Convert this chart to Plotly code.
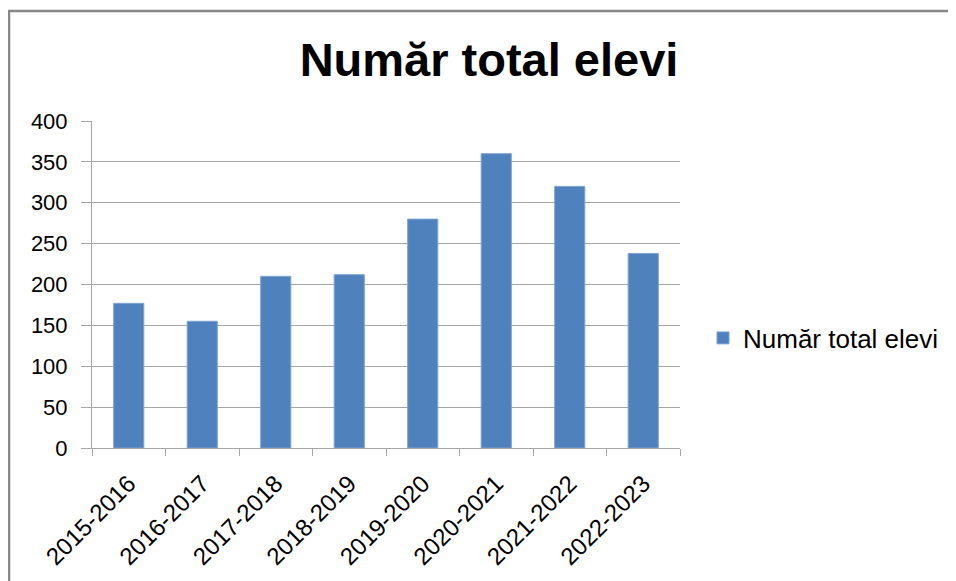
import plotly.graph_objects as go

categories = ["2015-2016", "2016-2017", "2017-2018", "2018-2019",
              "2019-2020", "2020-2021", "2021-2022", "2022-2023"]
values = [177, 155, 210, 212, 280, 360, 320, 238]
series_name = "Număr total elevi"
title_text = "Număr total elevi"
y_ticks = [0, 50, 100, 150, 200, 250, 300, 350, 400]

OFF = 8  # page body margin offset
W, H = 956 - OFF, 581 - OFF

fig = go.Figure()
fig.add_trace(go.Bar(
    x=categories, y=values, name=series_name,
    marker=dict(color="#4F81BD", line=dict(color="#7EA3D3", width=1)),
    showlegend=True,
))

L, T = 92 - OFF, 121 - OFF
R = 956 - 680
B = 581 - 448
pw = W - L - R
ph = H - T - B

def px(x):
    return (x - OFF - L) / pw

def py(y):
    return (448 - y) / ph

fig.update_layout(
    width=W, height=H,
    margin=dict(l=L, r=R, t=T, b=B, autoexpand=False),
    paper_bgcolor="white", plot_bgcolor="white",
    font=dict(family="Liberation Sans, Arial, sans-serif", color="#000000"),
    bargap=0.59,
    title=dict(text="<b>" + title_text + "</b>", x=(489 - OFF) / W, xanchor="center",
               y=1 - (60 - OFF) / H, yanchor="middle",
               font=dict(size=47, color="#000000")),
    legend=dict(x=px(703), xanchor="left", y=py(338), yanchor="middle",
                font=dict(size=26), itemwidth=30, bgcolor="rgba(0,0,0,0)",
                tracegroupgap=0),
    showlegend=True,
)
fig.update_xaxes(
    type="category", tickangle=-45, tickfont=dict(size=24),
    showline=True, linecolor="#A6A6A6", linewidth=1,
    ticks="outside", tickson="boundaries", ticklen=7, tickcolor="#A6A6A6",
    ticklabelstandoff=11, automargin=False,
    showgrid=False,
)
fig.update_yaxes(
    range=[0, 400], tickvals=y_ticks, tickfont=dict(size=22),
    showline=True, linecolor="#A6A6A6", linewidth=1,
    ticks="outside", ticklen=10, tickcolor="#A6A6A6",
    ticklabelstandoff=9, automargin=False,
    showgrid=True, gridcolor="#A6A6A6", gridwidth=1, zeroline=False,
)
fig.add_shape(type="rect", xref="paper", yref="paper",
              x0=px(9), x1=1.6, y0=-0.6, y1=py(11),
              line=dict(color="#888888", width=2.5), fillcolor="rgba(0,0,0,0)",
              layer="below")
fig.write_html("out.html")
